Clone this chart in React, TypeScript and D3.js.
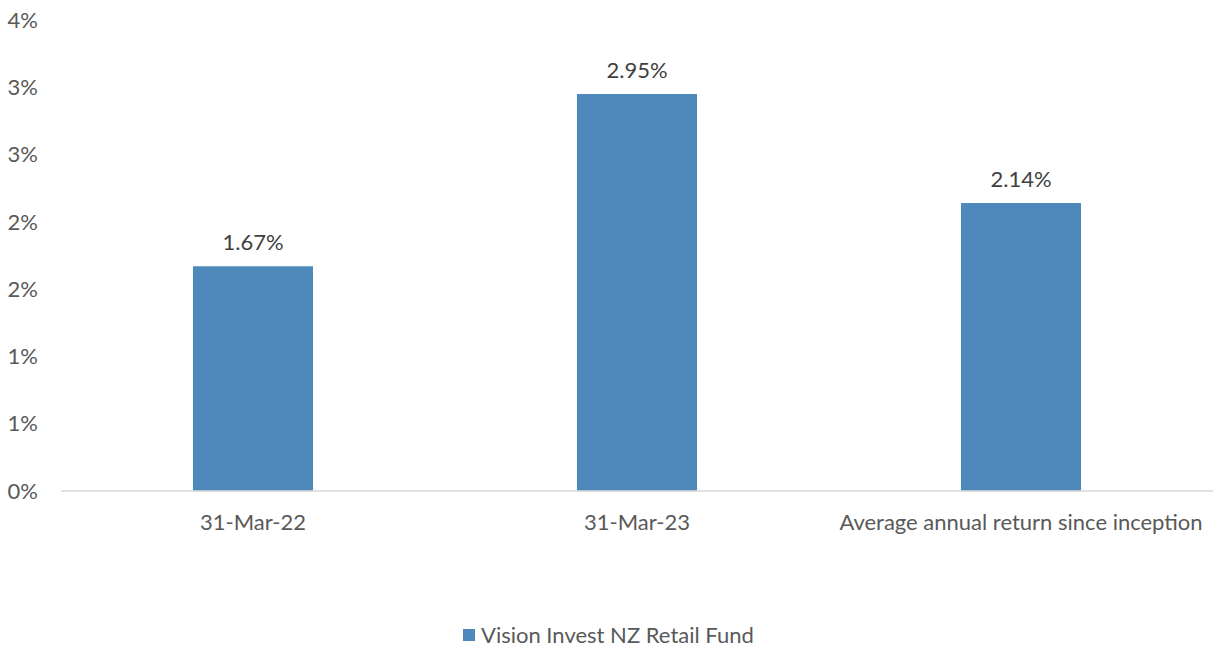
import * as d3 from "d3";

const categories = ["31-Mar-22", "31-Mar-23", "Average annual return since inception"];
const values = [1.67, 2.95, 2.14];
const seriesName = "Vision Invest NZ Retail Fund";
const yTicks = [0, 0.5, 1, 1.5, 2, 2.5, 3, 3.5];

const W = 1215;
const H = 648;
const MARGIN = { top: 20, right: 2, bottom: 157, left: 61 };
const BAR_COLOR = "#4F89BC";
const FONT = "Lato, 'Open Sans', sans-serif";
const FS = 22;

export default function App() {
  const boundsWidth = W - MARGIN.left - MARGIN.right;
  const boundsHeight = H - MARGIN.top - MARGIN.bottom;

  const xScale = d3.scaleBand<string>().domain(categories).range([0, boundsWidth]).padding(0);
  const yScale = d3.scaleLinear().domain([0, 3.5]).range([boundsHeight, 0]);
  const barW = xScale.bandwidth() * 0.3125;

  return (
    <svg width={W} height={H} style={{ position: "absolute", left: 0, top: 0, background: "#fff" }} fontFamily={FONT}>
      <g transform={`translate(${MARGIN.left},${MARGIN.top})`}>
        {/* y labels, excel style rounding */}
        {yTicks.map((t) => (
          <text key={t} x={-23} y={yScale(t)} dy="0.35em" textAnchor="end" fontSize={FS} fill="#595959">
            {Math.round(t)}%
          </text>
        ))}
        {categories.map((c, i) => {
          const cx = (xScale(c) ?? 0) + xScale.bandwidth() / 2;
          return (
            <g key={c}>
              <rect x={cx - barW / 2} y={yScale(values[i])} width={barW} height={yScale(0) - yScale(values[i])} fill={BAR_COLOR} />
              <text x={cx} y={yScale(values[i]) - 24} dy="0.35em" textAnchor="middle" fontSize={FS} fill="#404040">
                {values[i].toFixed(2)}%
              </text>
              <text x={cx} y={boundsHeight + 31} dy="0.35em" textAnchor="middle" fontSize={FS} fill="#595959">
                {c}
              </text>
            </g>
          );
        })}
        <line x1={0} x2={boundsWidth} y1={yScale(0)} y2={yScale(0)} stroke="#D9D9D9" strokeWidth={1.5} />
      </g>
      <g transform="translate(463,629)">
        <rect width={12} height={12} fill={BAR_COLOR} />
        <text x={18} y={6} dy="0.35em" fontSize={FS} fill="#595959">{seriesName}</text>
      </g>
    </svg>
  );
}
